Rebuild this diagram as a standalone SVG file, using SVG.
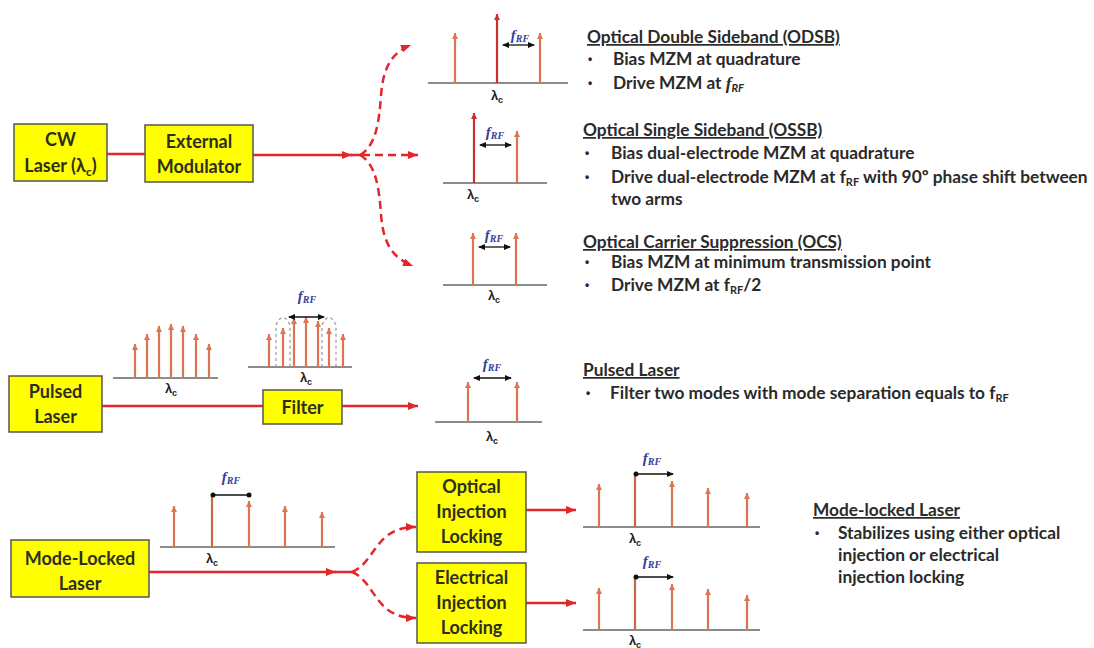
<svg xmlns="http://www.w3.org/2000/svg" width="1094" height="648" viewBox="0 0 1094 648">
<style>
.box{fill:#ffff00;stroke:#555555;stroke-width:1.5}
.bt{font-family:Lato,"Liberation Sans",sans-serif;font-weight:bold;font-size:18px;fill:#2e2e1e;text-anchor:middle}
.con{stroke:#e3262a;stroke-width:2.5;fill:none}
.dash{stroke:#e3262a;stroke-width:2.5;fill:none;stroke-dasharray:8 5}
.base{stroke:#666666;stroke-width:1.5}
.so{stroke:#dc7650;stroke-width:2.2}
.sr{stroke:#c93030;stroke-width:2.2}
.sp{stroke:#c46a45;stroke-width:2.2}
.dim{stroke:#111111;stroke-width:1.3}
.fl{stroke:#999999;stroke-width:1.2;stroke-dasharray:3 3;fill:none}
.frf{font-family:"Liberation Serif",serif;font-style:italic;font-weight:bold;font-size:15px;fill:#36409a;text-anchor:middle}
.lam{font-family:"Liberation Sans",sans-serif;font-weight:bold;font-size:13px;fill:#222;text-anchor:middle}
.tt{font-family:Lato,"Liberation Sans",sans-serif;font-weight:bold;font-size:17.3px;fill:#2a2a2a}
.bl{font-family:"Liberation Sans",sans-serif;font-weight:bold;font-size:12px;fill:#2a2a2a}
.ti{text-decoration:underline}
</style>
<defs>
<marker id="ao" markerUnits="userSpaceOnUse" markerWidth="8" markerHeight="8" refX="6" refY="3" orient="auto"><path d="M0,0 L6,3 L0,6 z" fill="#dc7650"/></marker>
<marker id="ar" markerUnits="userSpaceOnUse" markerWidth="8" markerHeight="8" refX="6" refY="3" orient="auto"><path d="M0,0 L6,3 L0,6 z" fill="#c93030"/></marker>
<marker id="ab" markerUnits="userSpaceOnUse" markerWidth="8" markerHeight="8" refX="6" refY="3" orient="auto-start-reverse"><path d="M0,0 L7,3 L0,6 z" fill="#111"/></marker>
<marker id="db" markerUnits="userSpaceOnUse" markerWidth="6" markerHeight="6" refX="3" refY="3"><circle cx="3" cy="3" r="2.5" fill="#111"/></marker>
<marker id="ac" markerUnits="userSpaceOnUse" markerWidth="12" markerHeight="10" refX="10" refY="4" orient="auto"><path d="M0,0 L10,4 L0,8 z" fill="#e3262a"/></marker>
</defs>

<g id="connectors">
<line class="con" x1="107" y1="154" x2="145" y2="154"/>
<line class="con" x1="253" y1="155" x2="352" y2="155" marker-end="url(#ac)"/>
<line class="con" x1="350" y1="155" x2="360" y2="155"/>
<path class="dash" d="M360,155 C376,146 379,122 381,96 C383,66 393,52 411,45" marker-end="url(#ac)"/>
<path class="dash" d="M362,155 L418,155" marker-end="url(#ac)"/>
<path class="dash" d="M360,155 C376,164 379,188 381,214 C383,244 393,258 413,266" marker-end="url(#ac)"/>
<line class="con" x1="102" y1="406" x2="263" y2="406"/>
<line class="con" x1="342" y1="406" x2="418" y2="406" marker-end="url(#ac)"/>
<line class="con" x1="149" y1="572" x2="336" y2="572" marker-end="url(#ac)"/>
<line class="con" x1="334" y1="572" x2="352" y2="572"/>
<path class="dash" d="M352,572 C368,566 374,545 388,535 C397,529 405,527 416,527" marker-end="url(#ac)"/>
<path class="dash" d="M352,572 C368,578 374,600 388,610 C397,616 405,618 416,618" marker-end="url(#ac)"/>
<line class="con" x1="526" y1="510" x2="576" y2="510" marker-end="url(#ac)"/>
<line class="con" x1="526" y1="603" x2="576" y2="603" marker-end="url(#ac)"/>
</g>

<g id="cw-laser">
<rect class="box" x="14" y="124" width="93" height="57"/>
<text class="bt" x="60.5" y="146">CW</text>
<text class="bt" x="60.5" y="172">Laser (λ<tspan font-size="12" dy="4">c</tspan><tspan dy="-4">)</tspan></text>
</g>
<g id="external-modulator">
<rect class="box" x="145" y="125" width="108" height="57"/>
<text class="bt" x="199" y="148">External</text>
<text class="bt" x="199" y="173">Modulator</text>
</g>
<g id="pulsed-laser">
<rect class="box" x="9" y="376" width="93" height="56"/>
<text class="bt" x="55.5" y="398">Pulsed</text>
<text class="bt" x="55.5" y="423">Laser</text>
</g>
<g id="filter">
<rect class="box" x="263" y="390" width="79" height="34"/>
<text class="bt" x="302.5" y="414">Filter</text>
</g>
<g id="mode-locked-laser">
<rect class="box" x="11" y="540" width="138" height="57"/>
<text class="bt" x="80" y="565">Mode-Locked</text>
<text class="bt" x="80" y="590">Laser</text>
</g>
<g id="optical-injection-locking">
<rect class="box" x="417" y="472" width="109" height="80"/>
<text class="bt" x="471.5" y="493">Optical</text>
<text class="bt" x="471.5" y="518">Injection</text>
<text class="bt" x="471.5" y="543">Locking</text>
</g>
<g id="electrical-injection-locking">
<rect class="box" x="417" y="563" width="109" height="80"/>
<text class="bt" x="471.5" y="584">Electrical</text>
<text class="bt" x="471.5" y="609">Injection</text>
<text class="bt" x="471.5" y="634">Locking</text>
</g>

<g id="spectrum-odsb">
<line class="base" x1="428" y1="83" x2="568" y2="83"/>
<line class="so" x1="455" y1="83" x2="455" y2="33" marker-end="url(#ao)"/>
<line class="sr" x1="497" y1="83" x2="497" y2="14" marker-end="url(#ar)"/>
<line class="so" x1="540" y1="83" x2="540" y2="33" marker-end="url(#ao)"/>
<line class="dim" x1="503" y1="45" x2="534" y2="45" marker-start="url(#ab)" marker-end="url(#ab)"/>
<text class="frf" x="520" y="40">f<tspan font-size="10" dy="2">RF</tspan></text>
<text class="lam" x="497" y="100">λ<tspan font-size="9" dy="3">c</tspan></text>
</g>
<g id="spectrum-ossb">
<line class="base" x1="443" y1="183" x2="547" y2="183"/>
<line class="sr" x1="474" y1="183" x2="474" y2="113" marker-end="url(#ar)"/>
<line class="so" x1="517" y1="183" x2="517" y2="131" marker-end="url(#ao)"/>
<line class="dim" x1="480" y1="145" x2="511" y2="145" marker-start="url(#ab)" marker-end="url(#ab)"/>
<text class="frf" x="495" y="137">f<tspan font-size="10" dy="2">RF</tspan></text>
<text class="lam" x="473" y="199">λ<tspan font-size="9" dy="3">c</tspan></text>
</g>
<g id="spectrum-ocs">
<line class="base" x1="443" y1="285" x2="547" y2="285"/>
<line class="so" x1="473" y1="285" x2="473" y2="233" marker-end="url(#ao)"/>
<line class="so" x1="516" y1="285" x2="516" y2="233" marker-end="url(#ao)"/>
<line class="dim" x1="479" y1="247" x2="510" y2="247" marker-start="url(#ab)" marker-end="url(#ab)"/>
<text class="frf" x="494" y="240">f<tspan font-size="10" dy="2">RF</tspan></text>
<text class="lam" x="494" y="300">λ<tspan font-size="9" dy="3">c</tspan></text>
</g>

<g id="spectrum-pulsed-comb">
<line class="base" x1="113" y1="378" x2="218" y2="378"/>
<line class="so" x1="135" y1="378" x2="135" y2="344" marker-end="url(#ao)"/>
<line class="so" x1="147" y1="378" x2="147" y2="334" marker-end="url(#ao)"/>
<line class="so" x1="159" y1="378" x2="159" y2="326" marker-end="url(#ao)"/>
<line class="so" x1="171" y1="378" x2="171" y2="324" marker-end="url(#ao)"/>
<line class="so" x1="183" y1="378" x2="183" y2="326" marker-end="url(#ao)"/>
<line class="so" x1="196" y1="378" x2="196" y2="334" marker-end="url(#ao)"/>
<line class="so" x1="209" y1="378" x2="209" y2="344" marker-end="url(#ao)"/>
<text class="lam" x="171" y="393">λ<tspan font-size="9" dy="3">c</tspan></text>
</g>
<g id="spectrum-filtered">
<line class="base" x1="248" y1="367" x2="352" y2="367"/>
<path class="fl" d="M276,367 L276,325 Q283,310 290,325 L290,367"/>
<path class="fl" d="M322,367 L322,325 Q329,310 336,325 L336,367"/>
<line class="so" x1="269" y1="367" x2="269" y2="334" marker-end="url(#ao)"/>
<line class="so" x1="283" y1="367" x2="283" y2="328" marker-end="url(#ao)"/>
<line class="so" x1="294" y1="367" x2="294" y2="318" marker-end="url(#ao)"/>
<line class="so" x1="306" y1="367" x2="306" y2="317" marker-end="url(#ao)"/>
<line class="so" x1="318" y1="367" x2="318" y2="321" marker-end="url(#ao)"/>
<line class="so" x1="329" y1="367" x2="329" y2="328" marker-end="url(#ao)"/>
<line class="so" x1="343" y1="367" x2="343" y2="334" marker-end="url(#ao)"/>
<line class="dim" x1="289" y1="317" x2="324" y2="317" stroke-width="1.8" marker-start="url(#ab)" marker-end="url(#ab)"/>
<text class="frf" x="307" y="301">f<tspan font-size="10" dy="2">RF</tspan></text>
<text class="lam" x="306" y="382">λ<tspan font-size="9" dy="3">c</tspan></text>
</g>
<g id="spectrum-pulsed-out">
<line class="base" x1="435" y1="422" x2="542" y2="422"/>
<line class="so" x1="468" y1="422" x2="468" y2="382" marker-end="url(#ao)"/>
<line class="so" x1="517" y1="422" x2="517" y2="382" marker-end="url(#ao)"/>
<line class="dim" x1="474" y1="378" x2="511" y2="378" marker-start="url(#ab)" marker-end="url(#ab)"/>
<text class="frf" x="492" y="369">f<tspan font-size="10" dy="2">RF</tspan></text>
<text class="lam" x="492" y="441">λ<tspan font-size="9" dy="3">c</tspan></text>
</g>

<g id="spectrum-mode-locked">
<line class="base" x1="160" y1="547" x2="335" y2="547"/>
<line class="so" x1="174" y1="547" x2="174" y2="506" marker-end="url(#ao)"/>
<line class="sp" x1="212" y1="547" x2="212" y2="496"/>
<line class="so" x1="249" y1="547" x2="249" y2="501" marker-end="url(#ao)"/>
<line class="so" x1="285" y1="547" x2="285" y2="506" marker-end="url(#ao)"/>
<line class="so" x1="322" y1="547" x2="322" y2="512" marker-end="url(#ao)"/>
<line class="dim" x1="213" y1="495" x2="249" y2="495" marker-start="url(#db)" marker-end="url(#db)"/>
<text class="frf" x="231" y="482">f<tspan font-size="10" dy="2">RF</tspan></text>
<text class="lam" x="212" y="563">λ<tspan font-size="9" dy="3">c</tspan></text>
</g>
<g id="spectrum-optical-out">
<line class="base" x1="583" y1="527" x2="760" y2="527"/>
<line class="so" x1="599" y1="527" x2="599" y2="484" marker-end="url(#ao)"/>
<line class="sp" x1="635" y1="527" x2="635" y2="475"/>
<line class="so" x1="672" y1="527" x2="672" y2="481" marker-end="url(#ao)"/>
<line class="so" x1="708" y1="527" x2="708" y2="488" marker-end="url(#ao)"/>
<line class="so" x1="747" y1="527" x2="747" y2="493" marker-end="url(#ao)"/>
<line class="dim" x1="636" y1="474" x2="673" y2="474" marker-start="url(#db)" marker-end="url(#ab)"/>
<text class="frf" x="652" y="463">f<tspan font-size="10" dy="2">RF</tspan></text>
<text class="lam" x="635" y="543">λ<tspan font-size="9" dy="3">c</tspan></text>
</g>
<g id="spectrum-electrical-out">
<line class="base" x1="583" y1="630" x2="760" y2="630"/>
<line class="so" x1="599" y1="630" x2="599" y2="588" marker-end="url(#ao)"/>
<line class="sp" x1="635" y1="630" x2="635" y2="578"/>
<line class="so" x1="672" y1="630" x2="672" y2="584" marker-end="url(#ao)"/>
<line class="so" x1="708" y1="630" x2="708" y2="589" marker-end="url(#ao)"/>
<line class="so" x1="747" y1="630" x2="747" y2="595" marker-end="url(#ao)"/>
<line class="dim" x1="636" y1="577" x2="673" y2="577" marker-start="url(#db)" marker-end="url(#ab)"/>
<text class="frf" x="652" y="566">f<tspan font-size="10" dy="2">RF</tspan></text>
<text class="lam" x="635" y="645">λ<tspan font-size="9" dy="3">c</tspan></text>
</g>

<g id="text-odsb">
<text class="tt ti" x="587" y="43">Optical Double Sideband (ODSB)</text>
<text class="bl" x="588" y="63">•</text>
<text class="tt" x="613" y="65">Bias MZM at quadrature</text>
<text class="bl" x="588" y="87">•</text>
<text class="tt" x="613" y="89">Drive MZM at <tspan font-family="Liberation Serif,serif" font-style="italic">f</tspan><tspan font-size="11" dy="3" font-style="italic">RF</tspan></text>
</g>
<g id="text-ossb">
<text class="tt ti" x="583" y="136">Optical Single Sideband (OSSB)</text>
<text class="bl" x="585" y="157">•</text>
<text class="tt" x="611" y="159">Bias dual-electrode MZM at quadrature</text>
<text class="bl" x="585" y="181">•</text>
<text class="tt" x="611" y="183">Drive dual-electrode MZM at f<tspan font-size="11" dy="3">RF</tspan><tspan dy="-3"> with 90º phase shift between</tspan></text>
<text class="tt" x="611" y="205">two arms</text>
</g>
<g id="text-ocs">
<text class="tt ti" x="583" y="248">Optical Carrier Suppression (OCS)</text>
<text class="bl" x="585" y="266">•</text>
<text class="tt" x="611" y="268">Bias MZM at minimum transmission point</text>
<text class="bl" x="585" y="289">•</text>
<text class="tt" x="611" y="291">Drive MZM at f<tspan font-size="11" dy="3">RF</tspan><tspan dy="-3">/2</tspan></text>
</g>
<g id="text-pulsed">
<text class="tt ti" x="583" y="376">Pulsed Laser</text>
<text class="bl" x="586" y="397">•</text>
<text class="tt" x="610" y="399">Filter two modes with mode separation equals to f<tspan font-size="11" dy="3">RF</tspan></text>
</g>
<g id="text-mode-locked">
<text class="tt ti" x="813" y="516">Mode-locked Laser</text>
<text class="bl" x="815" y="537">•</text>
<text class="tt" x="838" y="539">Stabilizes using either optical</text>
<text class="tt" x="838" y="561">injection or electrical</text>
<text class="tt" x="838" y="583">injection locking</text>
</g>
</svg>
